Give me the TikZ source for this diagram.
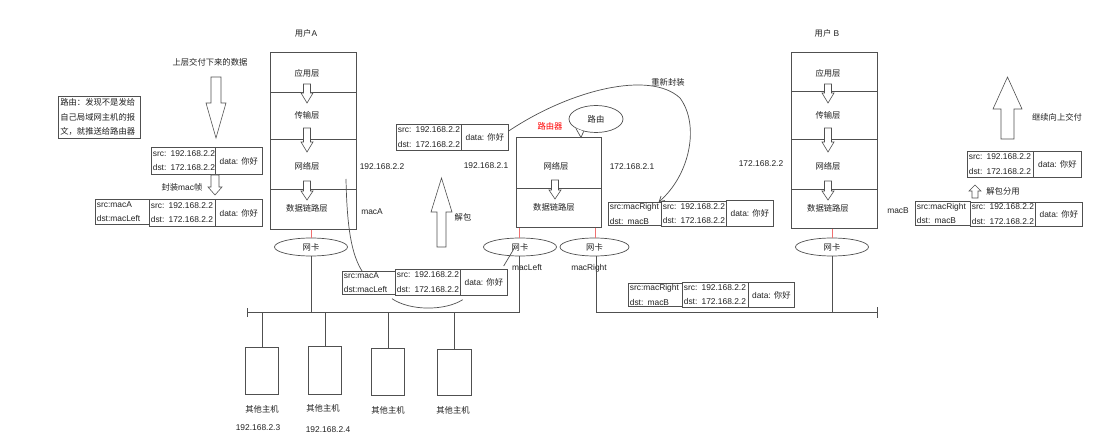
\documentclass[tikz,border=0pt]{standalone}
\usepackage{fontspec}
\setmainfont{Liberation Sans}
\newfontfamily\cjkfont[Scale=0.99]{Noto Sans CJK SC}
\usetikzlibrary{arrows.meta,shapes.geometric}
\newcommand\zh[1]{{\cjkfont #1}}
\newcommand\ft{\fontsize{8.4}{14.5}\selectfont}
\newcommand\iptext{\mbox{src: 192.168.2.2}\\\mbox{dst: 172.168.2.2}}
\definecolor{lc}{HTML}{505050}
\definecolor{rl}{HTML}{F07070}
\definecolor{tx}{HTML}{222222}
\newcommand\hollowarrow[6]{\draw[harrow] ({#1-#5},#2) -- ({#1+#5},#2) -- ({#1+#5},#3) -- ({#1+#6},#3) -- (#1,#4) -- ({#1-#6},#3) -- ({#1-#5},#3) -- cycle;}
\begin{document}
\begin{tikzpicture}[x=1pt,y=-1pt,line width=0.7pt,
  box/.style={draw=lc,inner sep=0pt,anchor=north west},
  pk/.style={draw=lc,anchor=north west,inner xsep=1.5pt,inner ysep=0pt,align=left,font=\ft,text=tx},
  pkd/.style={draw=lc,anchor=north west,inner sep=0pt,align=center,font=\ft,text=tx},
  lbl/.style={font=\ft,inner sep=0pt,text=tx},
  nic/.style={ellipse,draw=lc,minimum width=73pt,minimum height=18pt,inner sep=0pt,font=\ft,text=tx},
  harrow/.style={draw=lc,fill=white,line width=0.6pt},
  wire/.style={draw=lc},
  redw/.style={draw=rl}]
\useasboundingbox (0,0) rectangle (1109,441);
\fill[white] (0,0) rectangle (1109,441);

% ---------- left side ----------
\node[lbl] (top) at (210,62) {\zh{上层交付下来的数据}};
\node[draw=lc,anchor=north west,text width=78pt,inner xsep=2pt,inner ysep=0pt,minimum height=42pt,align=left,font=\ft,text=tx] (note) at (58,96) {\zh{路由：发现不是发给}\\\zh{自己局域网主机的报}\\\zh{文，就推送给路由器}};
\hollowarrow{216}{77}{103}{138}{5}{10}
\node[pk,text width=61pt,minimum height=27pt] (p1ip) at (151,147) {\iptext};
\node[pkd,minimum width=47pt,minimum height=27pt] (p1d) at (215,147) {data: \zh{你好}};
\node[lbl] (encap) at (182,187) {\zh{封装}mac\zh{帧}};
\hollowarrow{215}{175}{187}{195}{4}{7}
\node[pk,text width=51pt,minimum height=25pt] (p2mac) at (95,199) {src:macA\\dst:macLeft};
\node[pk,text width=63pt,minimum height=27pt] (p2ip) at (149,199) {\iptext};
\node[pkd,minimum width=47pt,minimum height=27pt] (p2d) at (215,199) {data: \zh{你好}};

% ---------- user A ----------
\node[lbl] (ua) at (306,33) {\zh{用户}A};
\node[box,minimum width=86pt,minimum height=40pt] (a1) at (270,52) {};
\node[box,minimum width=86pt,minimum height=47pt] (a2) at (270,92) {};
\node[box,minimum width=86pt,minimum height=50pt] (a3) at (270,139) {};
\node[box,minimum width=86pt,minimum height=40pt] (a4) at (270,189) {};
\node[lbl] (a1t) at (307,73) {\zh{应用层}};
\node[lbl] (a2t) at (307,115) {\zh{传输层}};
\node[lbl] (a3t) at (307,166) {\zh{网络层}};
\node[lbl] (a4t) at (307,208) {\zh{数据链路层}};
\hollowarrow{307}{84}{93}{103}{3.5}{6}
\hollowarrow{307}{128}{142}{152}{3.5}{6}
\hollowarrow{307}{181}{191}{200}{3.5}{6}
\node[nic] (nicA) at (311,247) {\zh{网卡}};
\node[lbl] (ipA) at (382,167) {192.168.2.2};
\node[lbl] (macA) at (372,212) {macA};

% ---------- user B ----------
\node[lbl] (ub) at (827,33) {\zh{用户} B};
\node[box,minimum width=86pt,minimum height=39pt] (b1) at (791,52) {};
\node[box,minimum width=86pt,minimum height=48pt] (b2) at (791,91) {};
\node[box,minimum width=86pt,minimum height=50pt] (b3) at (791,139) {};
\node[box,minimum width=86pt,minimum height=39pt] (b4) at (791,189) {};
\node[lbl] (b1t) at (828,73) {\zh{应用层}};
\node[lbl] (b2t) at (828,115) {\zh{传输层}};
\node[lbl] (b3t) at (828,166) {\zh{网络层}};
\node[lbl] (b4t) at (828,208) {\zh{数据链路层}};
\hollowarrow{828}{84}{93}{103}{3.5}{6}
\hollowarrow{828}{128}{142}{152}{3.5}{6}
\hollowarrow{828}{181}{191}{200}{3.5}{6}
\node[nic] (nicB) at (832,247) {\zh{网卡}};
\node[lbl] (ipB) at (761,164) {172.168.2.2};
\node[lbl] (macB) at (898,211) {macB};

% ---------- router ----------
\node[lbl,text=red] (rt) at (550,126) {\zh{路由器}};
\node[box,minimum width=85pt,minimum height=51pt] (r1) at (516,137) {};
\node[box,minimum width=85pt,minimum height=39pt] (r2) at (516,188) {};
\node[lbl] (r1t) at (556,166) {\zh{网络层}};
\node[lbl] (r2t) at (554,207) {\zh{数据链路层}};
\hollowarrow{555}{180}{190}{199}{3.5}{6}
\node[ellipse,draw=lc,minimum width=54pt,minimum height=27pt,inner sep=0pt,font=\ft,text=tx] (bub) at (596,119) {\zh{路由}};
\coordinate (tailtip) at (581,137.5);
\filldraw[fill=white,draw=lc] (bub.205) -- (tailtip) -- (bub.225);
\node[nic,minimum width=73pt] (nicL) at (520,247) {\zh{网卡}};
\node[nic,minimum width=69pt] (nicR) at (594.5,247) {\zh{网卡}};
\node[lbl] (ipRL) at (486,166) {192.168.2.1};
\node[lbl] (ipRR) at (632,167) {172.168.2.1};
\node[lbl] (macL) at (527,268) {macLeft};
\node[lbl] (macR) at (589,268) {macRight};

% middle packets
\node[pk,text width=62pt,minimum height=26pt] (p4ip) at (396,124) {\iptext};
\node[pkd,minimum width=47pt,minimum height=26pt] (p4d) at (461,124) {data: \zh{你好}};
\node[lbl] (jb) at (463,217) {\zh{解包}};
\hollowarrow{441.5}{247}{212}{178}{4.5}{10.5}
\node[pk,text width=50pt,minimum height=23pt] (p3mac) at (342,271) {src:macA\\dst:macLeft};
\node[pk,text width=62pt,minimum height=26pt] (p3ip) at (395,269) {\iptext};
\node[pkd,minimum width=47pt,minimum height=26pt] (p3d) at (460,269) {data: \zh{你好}};

\node[lbl] (rf) at (668,82) {\zh{重新封装}};
\node[pk,text width=50pt,minimum height=23pt] (p5mac) at (608,202) {\mbox{src:macRight}\\dst: macB};
\node[pk,text width=62pt,minimum height=25pt] (p5ip) at (661,201) {\iptext};
\node[pkd,minimum width=47pt,minimum height=26pt] (p5d) at (726,200) {data: \zh{你好}};

\node[pk,text width=51pt,minimum height=23pt] (p6mac) at (628,283) {\mbox{src:macRight}\\dst: macB};
\node[pk,text width=63pt,minimum height=25pt] (p6ip) at (682,282) {\iptext};
\node[pkd,minimum width=46pt,minimum height=25pt] (p6d) at (748,282) {data: \zh{你好}};

% ---------- right side ----------
\hollowarrow{1007.5}{139}{109}{77}{6.5}{14.5}
\node[lbl] (up) at (1057,117) {\zh{继续向上交付}};
\node[pk,text width=63pt,minimum height=26pt] (p7ip) at (967,151) {\iptext};
\node[pkd,minimum width=48pt,minimum height=26pt] (p7d) at (1033,151) {data: \zh{你好}};
\hollowarrow{975}{198}{191}{185}{3}{6}
\node[lbl] (jbfy) at (1003,191) {\zh{解包分用}};
\node[pk,text width=52pt,minimum height=24pt] (p8mac) at (915,201) {\mbox{src:macRight}\\dst: macB};
\node[pk,text width=62pt,minimum height=24pt] (p8ip) at (970,202) {\iptext};
\node[pkd,minimum width=47pt,minimum height=24pt] (p8d) at (1035,202) {data: \zh{你好}};

% ---------- hosts ----------
\node[box,minimum width=33pt,minimum height=47pt] (h1) at (245,347) {};
\node[box,minimum width=33pt,minimum height=48pt] (h2) at (308,346) {};
\node[box,minimum width=33pt,minimum height=47pt] (h3) at (371,348) {};
\node[box,minimum width=34pt,minimum height=46pt] (h4) at (437,349) {};
\node[lbl] (h1t) at (262,409) {\zh{其他主机}};
\node[lbl] (h2t) at (323,408) {\zh{其他主机}};
\node[lbl] (h3t) at (388,410) {\zh{其他主机}};
\node[lbl] (h4t) at (453,410) {\zh{其他主机}};
\node[lbl] (h1ip) at (258,428) {192.168.2.3};
\node[lbl] (h2ip) at (328,430) {192.168.2.4};

% ---------- wiring ----------
\coordinate (busL) at (247,312);
\coordinate (busR) at (877,312);
\draw[redw] (nicA.north |- a4.south) -- (nicA.north);
\draw[redw] (nicB.north |- b4.south) -- (nicB.north);
\draw[redw] ([xshift=-1pt]nicL.north |- r2.south) -- ([xshift=-1pt]nicL.north);
\draw[redw] ([xshift=0.5pt]nicR.north |- r2.south) -- ([xshift=0.5pt]nicR.north);
\draw[wire] ([xshift=-1pt]nicL.south) |- (busL);
\draw[wire] ([xshift=1.5pt]nicR.south) |- (busR);
\draw[wire] (nicA.south) -- (nicA.south |- busL);
\draw[wire] (nicB.south) -- (nicB.south |- busR);
\draw[wire] ([yshift=-4.5pt]busL) -- ([yshift=4.5pt]busL);
\draw[wire] ([yshift=-5.5pt]busR) -- ([yshift=5.5pt]busR);
\foreach \h in {h1,h2,h3,h4} \draw[wire] (\h.north) -- (\h.north |- busL);

% curves
\coordinate (cA) at (346,179);
\draw[wire] (cA) .. controls (347,230) and (352,255) .. ([xshift=20pt]p3mac.north west);
\draw[wire] ([shift={(-3,3)}]p3ip.south west) .. controls (410,311) and (445,311) .. ([shift={(2,4)}]p3ip.south east);
\draw[wire] ([shift={(-4,-3)}]p3d.north east) -- ([xshift=-5pt]nicL.center);
\draw[wire,-{Straight Barb[length=5pt,width=6pt]}] ([yshift=-7pt]p4d.north east) .. controls (570,90) and (650,70) .. (680,98) .. controls (700,125) and (690,175) .. ([xshift=-3pt]p5mac.north east);
\end{tikzpicture}
\end{document}
